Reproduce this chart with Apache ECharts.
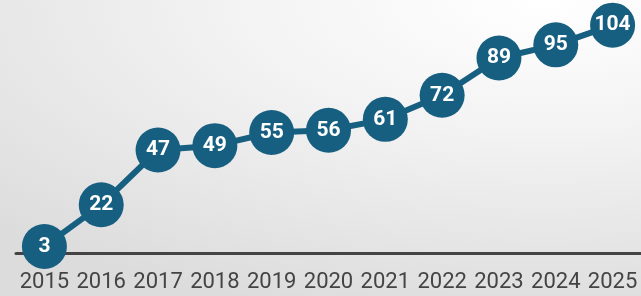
<!DOCTYPE html>
<html><head><meta charset="utf-8">
<script src="https://cdn.jsdelivr.net/npm/echarts@6/dist/echarts.min.js"></script>
<style>
html,body{margin:0;padding:0;}
#c{width:641px;height:296px;background:radial-gradient(ellipse 120% 110% at 85% 0%, #ffffff 0%, #f3f3f3 40%, #dcdcdc 100%);}
</style></head><body>
<div id="c"></div>
<script>
const years = ['2015','2016','2017','2018','2019','2020','2021','2022','2023','2024','2025'];
const values = [3,22,47,49,55,56,61,72,89,95,104];
const chart = echarts.init(document.getElementById('c'));
chart.setOption({
  backgroundColor: 'transparent',
  animation: false,
  grid: {left: 16, width: 630, top: 12, bottom: 43},
  xAxis: {
    type: 'category', data: years, boundaryGap: true,
    axisLine: {lineStyle: {color: '#444', width: 3}},
    axisTick: {show: false},
    axisLabel: {color: '#444', fontSize: 22, fontFamily: 'Roboto', margin: 18, interval: 0, hideOverlap: false}
  },
  yAxis: {type: 'value', min: 0, max: 110, show: false, splitLine: {show: false}},
  series: [{
    type: 'line', data: values,
    symbol: 'circle', symbolSize: 45, showAllSymbol: true,
    lineStyle: {color: '#175f80', width: 6},
    itemStyle: {color: '#175f80'},
    labelLayout: {hideOverlap: false},
    label: {show: true, position: 'inside', color: '#fff', fontSize: 21, fontWeight: 'bold', fontFamily: 'Roboto'}
  }]
});
</script></body></html>
